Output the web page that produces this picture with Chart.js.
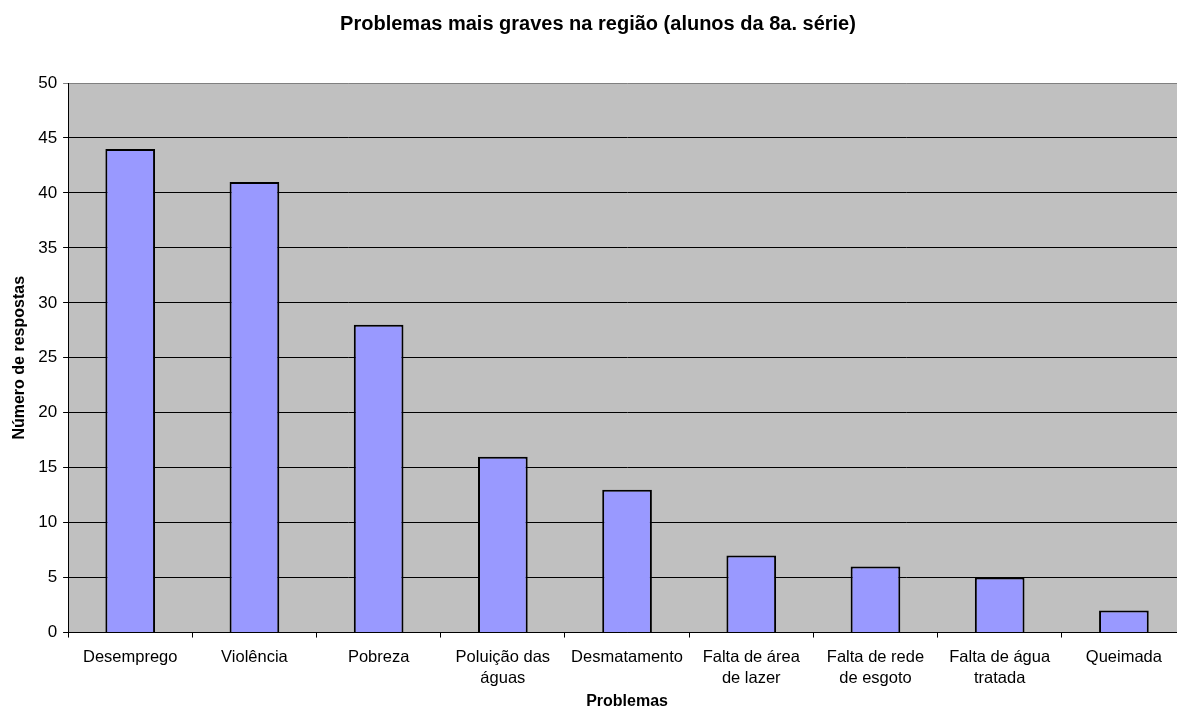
<!DOCTYPE html>
<html>
<head>
<meta charset="utf-8">
<script src="https://cdn.jsdelivr.net/npm/chart.js@4"></script>
<style>
  html, body { margin: 0; padding: 0; background: #fff; overflow: hidden; }
  #wrap { width: 1192px; height: 711px; }
</style>
</head>
<body>
<div id="wrap"><canvas id="chart" width="1192" height="711"></canvas></div>
<script>
// categories (multi-line labels wrap like the original)
const categories = [
    'Desemprego',
    'Violência',
    'Pobreza',
    ['Poluição das', 'águas'],
    'Desmatamento',
    ['Falta de área', 'de lazer'],
    ['Falta de rede', 'de esgoto'],
    ['Falta de água', 'tratada'],
    'Queimada'
];
const responses = [44, 41, 28, 16, 13, 7, 6, 5, 2];
const yTicks = [0, 5, 10, 15, 20, 25, 30, 35, 40, 45, 50];

const chartTitle = 'Problemas mais graves na região (alunos da 8a. série)';
const xTitle = 'Problemas';
const yTitle = 'Número de respostas';

const FONT = "'Liberation Sans', Arial, sans-serif";

// gray plot background like the spreadsheet chart
const plotBackground = {
    id: 'plotBackground',
    beforeDraw(chart) {
        const { ctx, chartArea } = chart;
        ctx.save();
        ctx.fillStyle = '#c0c0c0';
        ctx.fillRect(chartArea.left, chartArea.top, chartArea.right - chartArea.left, chartArea.bottom - chartArea.top);
        ctx.restore();
    }
};

const ctx = document.getElementById('chart').getContext('2d');
new Chart(ctx, {
    type: 'bar',
    data: {
        labels: categories,
        datasets: [{
            label: 'Número de respostas',
            data: responses,
            backgroundColor: '#9999ff',
            borderColor: '#000000',
            borderWidth: 2,
            categoryPercentage: 1.0,
            barPercentage: 0.4
        }]
    },
    options: {
        responsive: false,
        animation: false,
        layout: {
            padding: { left: 10, right: 6, top: 0, bottom: 0 }
        },
        plugins: {
            legend: { display: false },
            tooltip: { enabled: false },
            title: {
                display: true,
                text: chartTitle,
                color: '#000',
                font: { family: FONT, size: 20, weight: 'bold' },
                padding: { top: 12, bottom: 47 }
            }
        },
        scales: {
            x: {
                grid: {
                    display: true,
                    offset: true,
                    drawOnChartArea: false,
                    drawTicks: true,
                    tickLength: 5,
                    color: '#000'
                },
                border: { display: true, color: '#000', width: 1 },
                ticks: {
                    color: '#000',
                    maxRotation: 0,
                    autoSkip: false,
                    padding: 10,
                    font: { family: FONT, size: 16.5, lineHeight: 1.25 }
                },
                title: {
                    display: true,
                    text: xTitle,
                    color: '#000',
                    font: { family: FONT, size: 16, weight: 'bold' },
                    padding: { top: -7, bottom: 0 }
                }
            },
            y: {
                min: 0,
                max: 50,
                afterBuildTicks(scale) {
                    scale.ticks = yTicks.map(v => ({ value: v }));
                },
                grid: {
                    color: c => (c.tick && c.tick.value === 50 ? '#808080' : '#000'),
                    lineWidth: 1,
                    drawTicks: true,
                    tickLength: 5
                },
                border: { display: true, color: '#000', width: 1 },
                ticks: {
                    color: '#000',
                    padding: 6,
                    font: { family: FONT, size: 17 }
                },
                title: {
                    display: true,
                    text: yTitle,
                    color: '#000',
                    font: { family: FONT, size: 16, weight: 'bold' },
                    padding: { top: 0, bottom: 3 }
                }
            }
        }
    },
    plugins: [plotBackground]
});
</script>
</body>
</html>
